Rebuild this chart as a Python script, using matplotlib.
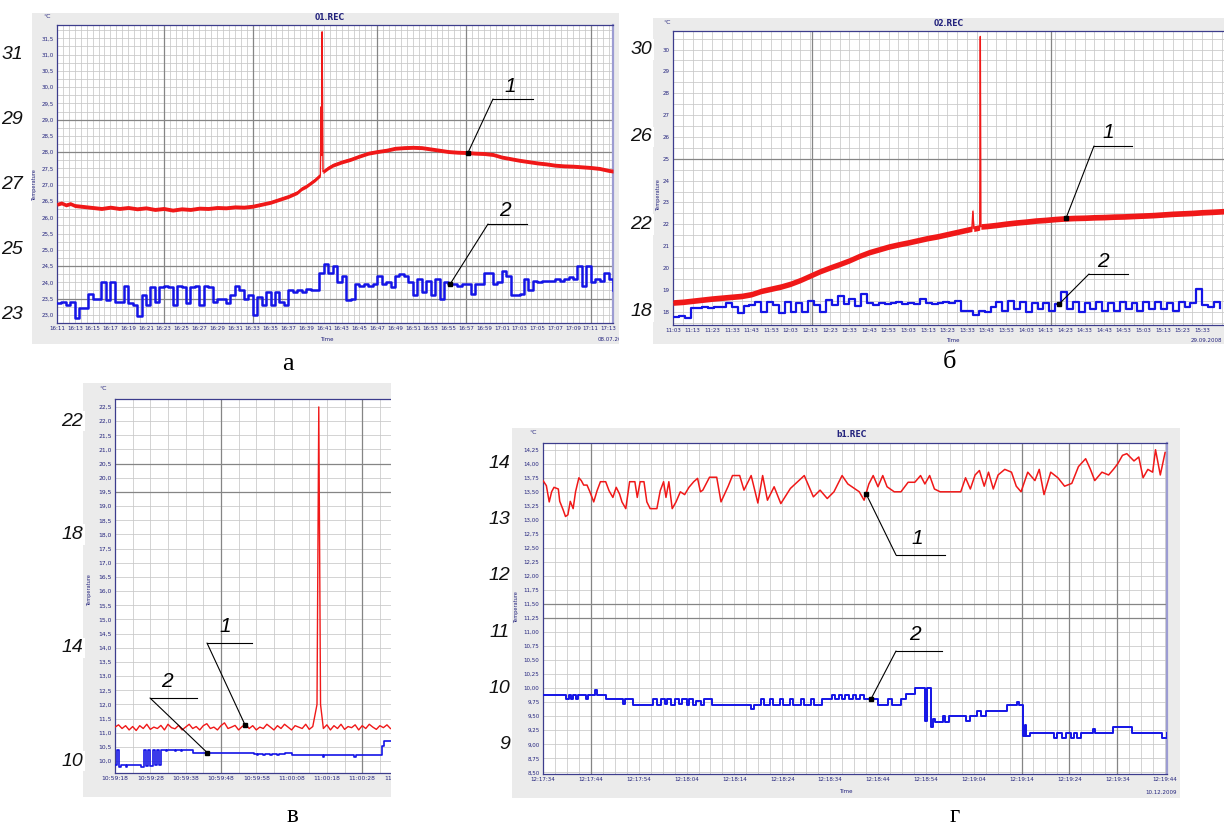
import numpy as np
import matplotlib
matplotlib.use("Agg")
import matplotlib.pyplot as plt
from matplotlib.patches import Rectangle
from matplotlib.lines import Line2D
from matplotlib.ticker import MultipleLocator
import matplotlib.transforms as mtransforms

W, H = 1224, 830
RED = "#f01818"
BLUE = "#1414e6"
NAVY = "#23237d"

# ---------------- DATA ----------------
# Panel a (01.REC), minutes after 16:11
a_red_t = [0, 0.5, 1, 1.5, 2, 3, 4, 5, 6, 7, 8, 9, 10, 11, 12, 13, 14, 15, 16, 17, 18, 19, 20,
           21, 22, 23, 24, 25, 26, 27, 27.5, 28, 28.5, 29, 29.6, 29.7, 29.75, 29.8, 29.9, 30.5,
           31, 32, 33, 34, 35, 36, 37, 38, 39, 40, 41, 42, 43, 44, 45, 46, 47, 48, 49, 50, 51,
           52, 53, 54, 55, 56, 57, 58, 59, 60, 61, 62, 62.5]
a_red_v = [26.40, 26.44, 26.38, 26.42, 26.36, 26.33, 26.30, 26.27, 26.31, 26.27, 26.30, 26.26,
           26.29, 26.24, 26.27, 26.22, 26.26, 26.24, 26.28, 26.27, 26.30, 26.29, 26.32, 26.31,
           26.34, 26.40, 26.46, 26.55, 26.64, 26.76, 26.88, 26.95, 27.05, 27.15, 27.30, 29.40,
           27.90, 31.70, 27.40, 27.52, 27.60, 27.70, 27.78, 27.88, 27.97, 28.02, 28.06, 28.12,
           28.14, 28.15, 28.14, 28.10, 28.06, 28.02, 28.00, 27.99, 27.97, 27.96, 27.93, 27.85,
           27.80, 27.75, 27.71, 27.67, 27.64, 27.60, 27.58, 27.57, 27.55, 27.53, 27.50, 27.44,
           27.42]
a_blue_v = [23.35, 23.4, 23.3, 23.4, 22.9, 23.2, 23.2, 23.65, 23.5, 23.5,
            24.0, 23.45, 24.0, 23.4, 23.4, 23.9, 23.35, 23.3, 22.95, 23.6,
            23.3, 23.85, 23.4, 23.85, 23.9, 23.85, 23.3, 23.9, 23.85, 23.35,
            23.85, 23.9, 23.3, 23.9, 23.85, 23.4, 23.5, 23.5, 23.35, 23.6,
            23.9, 23.75, 23.5, 23.6, 23.0, 23.55, 23.3, 23.7, 23.3, 23.7,
            23.4, 23.3, 23.75, 23.7, 23.75, 23.7, 23.8, 23.75, 23.75, 24.3,
            24.55, 24.3, 24.5, 24.0, 24.2, 23.45, 23.5, 23.95, 23.9, 23.95,
            23.9, 23.95, 24.2, 23.95, 24.0, 23.85, 24.2, 24.25, 24.2, 24.0,
            23.6, 24.1, 23.7, 24.05, 23.6, 24.1, 23.5, 24.0, 23.95, 23.95,
            23.9, 23.95, 23.95, 23.65, 23.95, 23.95, 24.3, 24.3, 23.95, 24.0,
            24.35, 24.2, 23.6, 23.6, 23.65, 24.1, 23.75, 24.05, 24.0, 24.05,
            24.05, 24.05, 24.1, 24.05, 24.1, 24.15, 24.1, 24.5, 23.9, 24.5,
            24.0, 24.1, 24.05, 24.3, 24.1, 23.75]
a_blue_t = list(np.arange(len(a_blue_v)) * 0.5)
a_xticks = list(range(0, 63, 2))
a_xlabels = [f"{16 + (11 + m) // 60}:{(11 + m) % 60:02d}" for m in a_xticks]
a_yticks = list(np.arange(23.0, 31.51, 0.5))
a_big = [31, 29, 27, 25, 23]

# Panel б (02.REC), minutes after 11:03
b_red_t = [0, 5, 10, 15, 20, 25, 30, 35, 40, 45, 50, 55, 60, 65, 70, 75, 80, 85, 90, 95, 100,
           105, 110, 115, 120, 125, 130, 135, 140, 145, 150, 152.5, 153, 153.5, 156, 156.5,
           156.8, 157.1, 160, 165, 170, 175, 180, 185, 190, 195, 200, 205, 210, 215, 220, 225,
           230, 235, 240, 245, 250, 255, 260, 265, 270, 275, 281]
b_red_v = [18.42, 18.45, 18.50, 18.55, 18.60, 18.64, 18.68, 18.72, 18.80, 18.95, 19.05, 19.15,
           19.28, 19.45, 19.65, 19.85, 20.02, 20.18, 20.35, 20.55, 20.72, 20.85, 20.98, 21.08,
           21.17, 21.27, 21.37, 21.45, 21.55, 21.65, 21.75, 21.80, 22.60, 21.80, 21.85, 21.87,
           30.60, 21.90, 21.92, 21.97, 22.03, 22.08, 22.12, 22.17, 22.20, 22.24, 22.27, 22.29,
           22.30, 22.32, 22.33, 22.35, 22.36, 22.38, 22.40, 22.42, 22.45, 22.48, 22.50, 22.52,
           22.55, 22.57, 22.60]
b_blue_v = [17.75, 17.8, 17.7, 18.15, 18.15, 18.2, 18.15, 18.2, 18.2, 18.4,
            18.2, 17.95, 18.25, 18.3, 18.45, 18.0, 18.45, 18.3, 17.95, 18.45,
            18.0, 18.4, 18.0, 18.5, 18.3, 18.0, 18.55, 18.3, 18.7, 18.35,
            18.6, 18.25, 18.8, 18.4, 18.3, 18.4, 18.35, 18.4, 18.45, 18.35,
            18.4, 18.35, 18.6, 18.4, 18.35, 18.4, 18.45, 18.4, 18.5, 18.05,
            18.05, 17.85, 18.05, 18.0, 18.2, 18.45, 18.05, 18.5, 18.1, 18.45,
            18.0, 18.4, 18.1, 18.4, 18.05, 18.35, 18.9, 18.1, 18.45, 18.0,
            18.4, 18.1, 18.45, 18.05, 18.4, 18.05, 18.45, 18.1, 18.4, 18.05,
            18.45, 18.1, 18.45, 18.1, 18.4, 18.05, 18.45, 18.2, 18.4, 19.05,
            18.3, 18.2, 18.45, 18.15]
b_blue_t = list(np.arange(len(b_blue_v)) * 3.0)
b_xticks = list(range(0, 271, 10))
b_xlabels = [f"{11 + (3 + m) // 60}:{(3 + m) % 60:02d}" for m in b_xticks]
b_yticks = list(range(18, 31))
b_big = [30, 26, 22, 18]

# Panel в, seconds after 10:59:18
v_red_t = list(range(57)) + [57.2, 57.7, 58.2] + list(range(59, 79))
v_red_v = [11.20, 11.28, 11.15, 11.25, 11.10, 11.22, 11.08, 11.25, 11.15, 11.30,
           11.12, 11.20, 11.15, 11.26, 11.10, 11.30, 11.18, 11.14, 11.26, 11.10,
           11.20, 11.30, 11.15, 11.22, 11.10, 11.25, 11.32, 11.15, 11.20, 11.10,
           11.25, 11.35, 11.15, 11.20, 11.26, 11.10, 11.22, 11.30, 11.15, 11.25,
           11.10, 11.20, 11.15, 11.30, 11.20, 11.10, 11.25, 11.15, 11.30, 11.20,
           11.10, 11.25, 11.20, 11.15, 11.30, 11.12, 11.22,
           12.0, 22.5, 12.0,
           11.15, 11.28, 11.10, 11.25, 11.15, 11.30, 11.12, 11.22, 11.18, 11.28,
           11.10, 11.25, 11.15, 11.30, 11.20, 11.12, 11.25, 11.18, 11.28, 11.15]
v_blue_t = [0, 0.6, 1.1, 1.6, 3.0, 3.5, 7.4, 8.2, 8.7, 9.4, 9.9, 10.7, 11.2, 11.9, 12.4, 13.0,
            14.4, 14.8, 17.0, 17.4, 18.6, 19.0, 22.0, 39.5, 40.2, 40.6, 42.0, 42.4, 44.0, 44.4,
            46.0, 46.4, 48.0, 50.0, 58.8, 59.3, 67.8, 68.3, 75.6, 76.3, 78.5]
v_blue_v = [9.85, 10.4, 9.8, 9.85, 9.78, 9.85, 9.8, 10.4, 9.82, 10.4, 9.82, 10.4, 9.85, 10.4,
            9.85, 10.4, 10.35, 10.4, 10.35, 10.4, 10.35, 10.4, 10.3, 10.25, 10.2, 10.25, 10.2,
            10.25, 10.2, 10.25, 10.2, 10.25, 10.3, 10.2, 10.15, 10.2, 10.15, 10.2, 10.55, 10.7,
            10.7]
v_xticks = list(range(0, 81, 10))
v_yticks = list(np.arange(10.0, 22.51, 0.5))
v_big = [22, 18, 14, 10]

# Panel г (b1.REC), seconds after 12:17:34
g_red_t = [0, 0.7, 1.3, 1.8, 2.3, 3.2, 3.5, 4.2, 4.7, 5.2, 5.7, 6.3, 6.8, 7.5, 8.0, 8.5, 9.2,
           9.8, 10.6, 11.3, 12.0, 13.1, 13.8, 14.6, 15.3, 16.0, 16.5, 17.3, 18.1, 19.2, 19.7,
           20.3, 21.1, 21.7, 22.4, 23.8, 24.5, 25.2, 25.7, 26.3, 27.0, 27.8, 28.7, 29.6, 30.5,
           31.5, 32.3, 32.9, 33.4, 34.8, 36.3, 37.2, 38.7, 39.6, 41.1, 42.0, 43.5, 44.9, 45.9,
           46.9, 48.3, 49.7, 51.7, 54.6, 56.5, 57.9, 59.4, 60.8, 62.5, 63.7, 66.1, 67.1, 68.1,
           69.0, 70.0, 71.0, 71.9, 73.4, 74.8, 76.3, 77.7, 78.9, 79.8, 80.8, 81.8, 83.0, 87.3,
           88.3, 89.3, 90.3, 91.2, 92.2, 93.1, 94.1, 95.1, 96.5, 97.9, 98.9, 99.9, 101.3, 102.8,
           103.7, 104.7, 106.1, 107.6, 109.0, 110.5, 111.9, 113.4, 114.4, 115.3, 116.8, 118.2,
           119.2, 120.1, 121.1, 122.0, 123.5, 124.5, 125.4, 126.4, 127.4, 128.0, 129.0, 130.0]
g_red_v = [13.70, 13.61, 13.32, 13.50, 13.58, 13.55, 13.33, 13.18, 13.06, 13.09, 13.33, 13.20,
           13.50, 13.75, 13.70, 13.62, 13.62, 13.50, 13.32, 13.52, 13.68, 13.68, 13.52, 13.40,
           13.58, 13.46, 13.32, 13.20, 13.68, 13.68, 13.40, 13.68, 13.68, 13.32, 13.20, 13.20,
           13.52, 13.68, 13.40, 13.68, 13.20, 13.32, 13.50, 13.45, 13.58, 13.68, 13.74, 13.50,
           13.53, 13.76, 13.76, 13.32, 13.60, 13.79, 13.79, 13.53, 13.79, 13.30, 13.79, 13.35,
           13.59, 13.29, 13.56, 13.79, 13.41, 13.53, 13.38, 13.50, 13.79, 13.64, 13.50, 13.35,
           13.64, 13.79, 13.59, 13.79, 13.59, 13.50, 13.50, 13.67, 13.67, 13.79, 13.64, 13.79,
           13.55, 13.50, 13.50, 13.75, 13.55, 13.80, 13.88, 13.60, 13.85, 13.55, 13.80, 13.90,
           13.85, 13.60, 13.50, 13.85, 13.70, 13.90, 13.45, 13.85, 13.75, 13.60, 13.65, 13.95,
           14.09, 13.90, 13.70, 13.85, 13.80, 13.90, 14.00, 14.15, 14.18, 14.05, 14.12, 13.75,
           13.90, 13.85, 14.25, 13.80, 14.20]
g_blue_t = [0, 4.9, 5.4, 5.8, 6.3, 6.8, 7.3, 9.0, 9.4, 10.8, 11.2, 13.1, 16.8, 17.2, 18.9, 23.0,
            23.8, 24.6, 25.4, 26.0, 26.8, 27.5, 28.4, 29.0, 30.0, 30.6, 31.4, 32.0, 33.0, 33.6,
            35.3, 43.5, 44.0, 45.5, 46.2, 47.5, 48.0, 49.5, 50.2, 51.6, 52.3, 54.0, 54.6, 56.0,
            56.7, 58.4, 60.3, 61.0, 61.8, 62.5, 63.2, 64.0, 64.8, 65.5, 66.2, 67.1, 70.0, 72.0,
            73.0, 74.8, 75.8, 77.7, 79.8, 80.2, 81.0, 81.6, 82.0, 83.5, 84.0, 84.9, 88.3, 89.2,
            90.6, 91.6, 92.5, 94.0, 97.0, 99.0, 99.5, 100.4, 100.7, 101.0, 101.7, 106.7, 107.4,
            108.5, 109.2, 110.4, 111.0, 111.6, 112.5, 115.0, 115.3, 119.2, 123.1, 129.4, 130.4]
g_blue_v = [9.88, 9.8, 9.88, 9.8, 9.88, 9.8, 9.88, 9.8, 9.88, 9.96, 9.88, 9.8, 9.72, 9.8, 9.7,
            9.8, 9.7, 9.8, 9.72, 9.8, 9.7, 9.8, 9.72, 9.8, 9.7, 9.8, 9.7, 9.78, 9.7, 9.8, 9.7,
            9.62, 9.7, 9.8, 9.7, 9.8, 9.7, 9.8, 9.7, 9.8, 9.7, 9.8, 9.7, 9.8, 9.7, 9.8, 9.88,
            9.8, 9.88, 9.8, 9.88, 9.8, 9.88, 9.8, 9.88, 9.8, 9.7, 9.8, 9.7, 9.8, 9.9, 10.0, 9.42,
            10.0, 9.3, 9.45, 9.4, 9.5, 9.4, 9.5, 9.42, 9.5, 9.6, 9.5, 9.6, 9.6, 9.7, 9.75, 9.7,
            9.15, 9.35, 9.15, 9.2, 9.12, 9.2, 9.12, 9.2, 9.12, 9.2, 9.12, 9.2, 9.28, 9.2, 9.3,
            9.2, 9.12, 9.2]
g_xticks = list(range(0, 131, 10))
g_yticks = list(np.arange(8.5, 14.251, 0.25))
g_big = [14, 13, 12, 11, 10, 9]


def hms(h, m, s, add):
    tot = h * 3600 + m * 60 + s + add
    return f"{tot // 3600}:{tot % 3600 // 60:02d}:{tot % 60:02d}"


v_xlabels = [hms(10, 59, 18, s) for s in v_xticks]
g_xlabels = [hms(12, 17, 34, s) for s in g_xticks]

# ---------------- FIGURE ----------------
fig = plt.figure(figsize=(W / 100, H / 100), dpi=100)
fig.patch.set_facecolor("white")


def box(x0, y0, x1, y1):
    return [x0 / W, 1 - y1 / H, (x1 - x0) / W, (y1 - y0) / H]


def rect(x0, y0, x1, y1, color, z):
    fig.add_artist(Rectangle((x0 / W, 1 - y1 / H), (x1 - x0) / W, (y1 - y0) / H,
                             transform=fig.transFigure, facecolor=color,
                             edgecolor="none", zorder=z))


def ftext(x, y, s, **kw):
    return fig.text(x / W, 1 - y / H, s, **kw)


def style_axes(ax, xlim, ylim, xticks, xlabels, yticks, ylabels, xminor, yminor,
               darkx=(), darky=(), size=4.3):
    ax.set_xlim(xlim)
    ax.set_ylim(ylim)
    ax.set_xticks(xticks)
    ax.set_xticklabels(xlabels)
    ax.set_yticks(yticks)
    ax.set_yticklabels(ylabels)
    ax.xaxis.set_minor_locator(MultipleLocator(xminor))
    ax.yaxis.set_minor_locator(MultipleLocator(yminor))
    ax.grid(True, which="both", color="#c8c8c8", lw=0.55)
    ax.set_axisbelow(True)
    for x in darkx:
        ax.axvline(x, color="#858585", lw=0.9, zorder=1)
    for y in darky:
        ax.axhline(y, color="#858585", lw=0.9, zorder=1)
    ax.tick_params(which="both", length=0, labelsize=size, labelcolor=NAVY, pad=2.5)
    for sp in ax.spines.values():
        sp.set_color("#3c3c8c")
        sp.set_linewidth(0.9)


def big_labels(ax, values, xright):
    tr = mtransforms.blended_transform_factory(fig.transFigure, ax.transData)
    for v in values:
        fig.text(xright / W, v, str(v), transform=tr, ha="right", va="center",
                 fontsize=14, style="italic", family="Liberation Sans", color="#111111",
                 zorder=8, bbox=dict(facecolor="white", edgecolor="none", pad=1.2))


def pointer(ax, label, xy, sx, sy, ex, lx, ly):
    p0 = (sx / W, 1 - sy / H)
    ax.annotate("", xy=xy, xycoords="data", xytext=p0, textcoords="figure fraction",
                arrowprops=dict(arrowstyle="-", color="black", lw=0.8, shrinkA=0, shrinkB=0),
                annotation_clip=False, zorder=6)
    fig.add_artist(Line2D([sx / W, ex / W], [1 - sy / H, 1 - sy / H],
                          transform=fig.transFigure, color="black", lw=0.8, zorder=7))
    ax.plot([xy[0]], [xy[1]], marker="s", ms=2.6, color="black", zorder=7, clip_on=False)
    ftext(lx, ly, label, ha="center", va="center", fontsize=15, style="italic",
          family="Liberation Sans", zorder=8)


def step_val(ts, vs, t):
    i = int(np.searchsorted(ts, t, side="right")) - 1
    return vs[max(i, 0)]


def comma(v, fmt):
    return (fmt % v).replace(".", ",")


GRAY = "#ebebeb"
rect(32, 13, 619, 344, GRAY, -1)
rect(653, 18, 1230, 344, GRAY, -1)
rect(83, 383, 400, 797, GRAY, -1)
rect(512, 428, 1180, 798, GRAY, -1)

# ---- Panel a ----
axa = fig.add_axes(box(57, 25, 613, 323))
style_axes(axa, (0, 62.5), (22.75, 31.91), a_xticks, a_xlabels, a_yticks,
           [comma(v, "%.1f") for v in a_yticks], 2 / 3, 0.25,
           darkx=(12, 22, 36, 46, 60), darky=(29, 28, 24.5, 23.5), size=4.0)
axa.spines["right"].set_color("#9c9cd2")
axa.spines["right"].set_linewidth(1.6)
av = np.array(a_red_v)
axa.fill_between(a_red_t, av - 0.06, av + 0.06, color=RED, lw=0, zorder=3)
axa.plot(a_red_t, a_red_v, color=RED, lw=1.0, zorder=3)
axa.step(a_blue_t, a_blue_v, where="post", color=BLUE, lw=1.8, zorder=3)
ftext(330, 18, "01.REC", ha="center", va="center", fontsize=5.5, weight="bold", color=NAVY)
ftext(47, 17, "°C", ha="center", va="center", fontsize=4.5, color=NAVY)
ftext(35, 185, "Temperature", ha="center", va="center", fontsize=3.6, color=NAVY, rotation=90)
ftext(327, 339, "Time", ha="center", va="center", fontsize=4.0, color=NAVY)
ftext(598, 339, "08.07.2008", ha="left", va="center", fontsize=4.0, color=NAVY)
big_labels(axa, a_big, 23)
pointer(axa, "1", (46.2, float(np.interp(46.2, a_red_t, a_red_v))), 493, 99, 533, 510, 86)
pointer(axa, "2", (44.2, step_val(a_blue_t, a_blue_v, 44.2)), 488, 224, 527, 505, 211)
ftext(288, 364, "а", ha="center", va="center", fontsize=19, family="Liberation Serif")

# ---- Panel б ----
axb = fig.add_axes(box(673, 31, 1240, 325))
style_axes(axb, (0, 289.3), (17.39, 30.85), b_xticks, b_xlabels, b_yticks,
           [str(v) for v in b_yticks], 5, 0.5, darkx=(71, 193), darky=(25,), size=4.0)
bv = np.array(b_red_v)
axb.fill_between(b_red_t, bv - 0.13, bv + 0.13, color=RED, lw=0, zorder=3)
axb.plot(b_red_t, b_red_v, color=RED, lw=1.0, zorder=3)
axb.step(b_blue_t, b_blue_v, where="post", color=BLUE, lw=1.6, zorder=3)
ftext(949, 23, "02.REC", ha="center", va="center", fontsize=5.5, weight="bold", color=NAVY)
ftext(667, 22, "°C", ha="center", va="center", fontsize=4.5, color=NAVY)
ftext(659, 195, "Temperature", ha="center", va="center", fontsize=3.6, color=NAVY, rotation=90)
ftext(953, 340, "Time", ha="center", va="center", fontsize=4.0, color=NAVY)
ftext(1222, 340, "29.09.2008", ha="right", va="center", fontsize=4.0, color=NAVY)
big_labels(axb, b_big, 652)
pointer(axb, "1", (200.5, float(np.interp(200.5, b_red_t, b_red_v))), 1094, 146, 1132, 1108, 133)
pointer(axb, "2", (197, step_val(b_blue_t, b_blue_v, 197)), 1089, 274, 1128, 1103, 261)
ftext(950, 362, "б", ha="center", va="center", fontsize=19, family="Liberation Serif")

# ---- Panel в ----
axv = fig.add_axes(box(115, 399, 400, 773))
style_axes(axv, (0, 80.7), (9.58, 22.78), v_xticks, v_xlabels, v_yticks,
           [comma(v, "%.1f") for v in v_yticks], 5, 0.5,
           darkx=(30, 70), darky=(20.5, 19.5), size=4.3)
axv.plot(v_red_t, v_red_v, color=RED, lw=1.0, zorder=3)
axv.step(v_blue_t, v_blue_v, where="post", color=BLUE, lw=1.2, zorder=3)
ftext(103, 388, "°C", ha="center", va="center", fontsize=4.5, color=NAVY)
ftext(90, 590, "Temperature", ha="center", va="center", fontsize=3.6, color=NAVY, rotation=90)
rect(391, 375, 506, 805, "white", 4)
big_labels(axv, v_big, 83)
pointer(axv, "1", (36.8, float(np.interp(36.8, v_red_t, v_red_v))), 207, 643, 252, 225, 626)
pointer(axv, "2", (26.1, step_val(v_blue_t, v_blue_v, 26.1)), 150, 698, 197, 167, 681)
ftext(292, 816, "в", ha="center", va="center", fontsize=18, family="Liberation Serif")

# ---- Panel г ----
axg = fig.add_axes(box(543, 443, 1167, 774))
style_axes(axg, (0, 130.4), (8.47, 14.37), g_xticks, g_xlabels, g_yticks,
           [comma(v, "%.2f") for v in g_yticks], 2.5, 0.25,
           darkx=(10, 100, 110, 120), darky=(11.5, 11.25), size=4.0)
axg.spines["right"].set_color("#9c9cd2")
axg.spines["right"].set_linewidth(1.6)
axg.plot(g_red_t, g_red_v, color=RED, lw=1.1, zorder=3)
axg.step(g_blue_t, g_blue_v, where="post", color=BLUE, lw=1.4, zorder=3)
ftext(852, 434, "b1.REC", ha="center", va="center", fontsize=5.5, weight="bold", color=NAVY)
ftext(533, 432, "°C", ha="center", va="center", fontsize=4.5, color=NAVY)
ftext(517, 607, "Temperature", ha="center", va="center", fontsize=3.6, color=NAVY, rotation=90)
ftext(846, 791, "Time", ha="center", va="center", fontsize=4.0, color=NAVY)
ftext(1177, 792, "10.12.2009", ha="right", va="center", fontsize=4.0, color=NAVY)
big_labels(axg, g_big, 510)
pointer(axg, "1", (67.5, float(np.interp(67.5, g_red_t, g_red_v))), 896, 555, 945, 917, 538)
pointer(axg, "2", (68.5, step_val(g_blue_t, g_blue_v, 68.5)), 896, 651, 942, 915, 634)
ftext(955, 816, "г", ha="center", va="center", fontsize=18, family="Liberation Serif")

# clip area right of panel a
rect(619, 0, 653, 350, "white", 4)

fig.savefig("out.png", dpi=100)
